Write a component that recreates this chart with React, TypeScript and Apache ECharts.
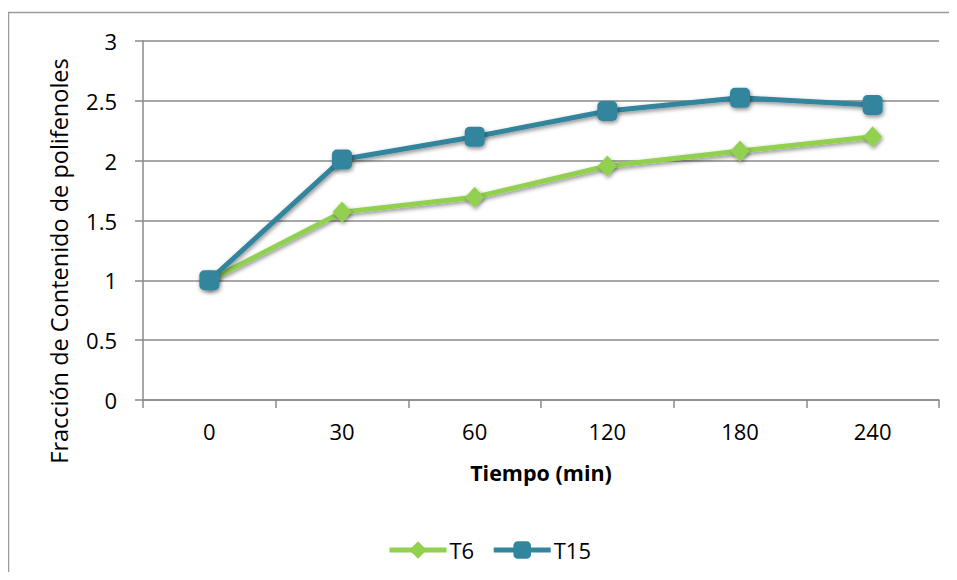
import React, { useEffect, useRef } from "react";
import * as echarts from "echarts";

const categories = ["0", "30", "60", "120", "180", "240"];
const t6 = [1.0, 1.57, 1.695, 1.955, 2.08, 2.2];
const t15 = [1.0, 2.01, 2.2, 2.415, 2.525, 2.465];
const yTicks = { min: 0, max: 3, interval: 0.5 };
const yName = "Fracción de Contenido de polifenoles";
const xName = "Tiempo (min)";

const FONT = "Open Sans";
const GREEN = "#92D050";
const TEAL = "#31859C";
const GRID = "#8a8a8a";

export default function App() {
  const ref = useRef<HTMLDivElement>(null);
  useEffect(() => {
    if (!ref.current) return;
    const chart = echarts.init(ref.current, null, { renderer: "svg" });
    const shadow = {
      shadowBlur: 4,
      shadowColor: "rgba(0,0,0,0.45)",
      shadowOffsetX: 1,
      shadowOffsetY: 2,
    };
    chart.setOption({
      animation: false,
      textStyle: { fontFamily: FONT },
      graphic: [
        {
          type: "rect",
          shape: { x: 0.5, y: 4.5, width: 1200, height: 1200 },
          style: { fill: "none", stroke: "#9a9a9a", lineWidth: 1.5 },
          silent: true,
        },
        {
          type: "text",
          x: 51,
          y: 253,
          rotation: Math.PI / 2,
          style: {
            text: yName,
            fontFamily: FONT,
            fontSize: 23.5,
            fill: "#000",
            align: "center",
            verticalAlign: "middle",
          },
          silent: true,
        },
      ],
      grid: { left: 135, top: 33, right: 10, bottom: 172 },
      legend: {
        left: 374,
        top: 526,
        itemWidth: 57,
        itemHeight: 22,
        itemGap: 17,
        lineStyle: { width: 5 },
        textStyle: { fontFamily: FONT, fontSize: 22, color: "#000", padding: [0, 0, 0, -2] },
        data: ["T6", "T15"],
      },
      xAxis: {
        type: "category",
        data: categories,
        boundaryGap: true,
        name: xName,
        nameLocation: "middle",
        nameGap: 61,
        nameTextStyle: { fontFamily: FONT, fontSize: 21.5, fontWeight: "bold", color: "#000" },
        axisLine: { show: true, lineStyle: { color: GRID, width: 1.5 } },
        axisTick: { show: true, length: 8, lineStyle: { color: GRID, width: 1.5 } },
        axisLabel: { fontFamily: FONT, fontSize: 22, color: "#000", margin: 20 },
        splitLine: { show: false },
      },
      yAxis: {
        type: "value",
        min: yTicks.min,
        max: yTicks.max,
        interval: yTicks.interval,
        axisLine: { show: true, lineStyle: { color: GRID, width: 1.5 } },
        axisTick: { show: true, length: 8, lineStyle: { color: GRID, width: 1.5 } },
        axisLabel: { fontFamily: FONT, fontSize: 22, color: "#000", margin: 26 },
        splitLine: { show: true, lineStyle: { color: GRID, width: 1.5 } },
      },
      series: [
        {
          name: "T6",
          type: "line",
          data: t6,
          symbol: "diamond",
          symbolSize: [19, 21],
          lineStyle: { color: GREEN, width: 5, ...shadow },
          itemStyle: { color: GREEN, ...shadow },
          z: 2,
        },
        {
          name: "T15",
          type: "line",
          data: t15,
          symbol: "roundRect",
          symbolSize: 20,
          lineStyle: { color: TEAL, width: 5, ...shadow },
          itemStyle: { color: TEAL, ...shadow },
          z: 3,
        },
      ],
    });
    return () => chart.dispose();
  }, []);
  return <div ref={ref} style={{ width: 941, height: 564 }} />;
}
